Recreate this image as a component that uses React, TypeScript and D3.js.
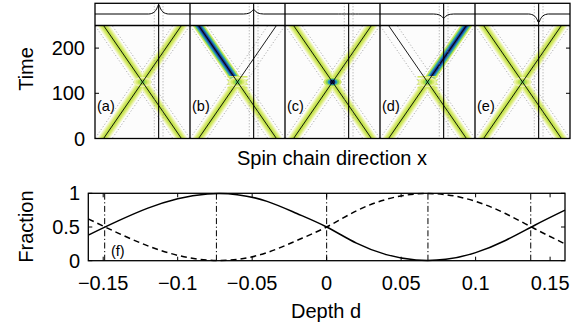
import React, { useRef, useEffect } from "react";
import * as d3 from "d3";

// top figure: one panel per barrier depth
const panelLabels = ["(a)", "(b)", "(c)", "(d)", "(e)"];
const panelDepths = [-0.149, -0.074, 0, 0.068, 0.137];
// relative beam strength of each arm of the X
const armLowerLeft = [1, 1, 1, 1, 1];
const armLowerRight = [1, 1, 1, 1, 1];
const armUpperLeft = [1, 2.5, 1, 0, 1];
const armUpperRight = [1, 0, 1, 2.5, 1];
const crossingPeak = [0.5, 0.55, 1, 0.55, 0.5];
const crossingFringes = [0, 4, 0, 4, 0];
const timeTicks = [0, 100, 200];

// bottom figure
const depthValues = [-0.16, -0.14, -0.12, -0.1, -0.08, -0.06, -0.04, -0.02, 0, 0.02, 0.04, 0.06, 0.08, 0.1, 0.12, 0.14, 0.16];
const solidFraction = [0.38, 0.59, 0.78, 0.92, 0.99, 0.98, 0.88, 0.7, 0.5, 0.26, 0.09, 0.01, 0.02, 0.12, 0.3, 0.53, 0.75];
const dashedFraction = [0.62, 0.41, 0.22, 0.08, 0.01, 0.02, 0.12, 0.3, 0.5, 0.74, 0.91, 0.99, 0.98, 0.88, 0.7, 0.47, 0.25];
const depthTicks = [-0.15, -0.1, -0.05, 0, 0.05, 0.1, 0.15];
const depthTickLabels = ["\u22120.15", "\u22120.1", "\u22120.05", "0", "0.05", "0.1", "0.15"];
const fractionTicks = [0, 0.5, 1];
const fractionTickLabels = ["0", "0.5", "1"];

const colorStops = ["#fcfcfc", "#eef5b4", "#d8ea6a", "#b0dc3e", "#5ccc6c", "#26acc4", "#2258bc", "#0e1650"];

const FONT = "Liberation Sans, Arial, Helvetica, sans-serif";

const App: React.FC = () => {
    const svgRef = useRef<SVGSVGElement | null>(null);

    useEffect(() => {
        document.body.style.margin = "0";
        const width = 584;
        const height = 332;
        const svg = d3.select(svgRef.current).attr("width", width).attr("height", height);
        svg.selectAll("*").remove();

        const heat = d3
            .scaleLinear<string>()
            .domain(colorStops.map((_, i) => i / (colorStops.length - 1)))
            .range(colorStops)
            .clamp(true);

        // ---------- top figure ----------
        const stripTop = 3.3;
        const xPanel = d3.scaleBand().domain(panelLabels).range([95, 570]).paddingInner(0).paddingOuter(0);
        const pw = xPanel.bandwidth();
        const xChain = d3.scaleLinear().domain([0, 1]).range([0, pw]);
        const yTime = d3.scaleLinear().domain([0, 250]).range([138.5, 25.5]);
        const beamStart = 0.09;
        const beamEnd = 0.91;
        const defectPos = 0.67;
        const tCross = 125;

        svg.append("rect")
            .attr("x", 95).attr("y", yTime(250))
            .attr("width", 475).attr("height", yTime(0) - yTime(250))
            .attr("fill", "#fcfcfc");

        const defs = svg.append("defs");
        defs.append("clipPath").attr("id", "panelClip")
            .append("rect").attr("x", 0).attr("y", yTime(250)).attr("width", pw).attr("height", yTime(0) - yTime(250));

        // point along a trajectory at time t
        const along = (x0: number, x1: number, t: number) => x0 + (x1 - x0) * (t / 250);

        const layerWidths = [10, 7.5, 5.5, 3.5, 2];
        const layerLevels = [0.12, 0.22, 0.3, 0.35, 0.38];

        panelLabels.forEach((lab, i) => {
            const g = svg.append("g").attr("transform", `translate(${xPanel(lab)},0)`);
            const inner = g.append("g").attr("clip-path", "url(#panelClip)");

            // dotted guides along both sides of each trajectory
            [-0.09, 0.09].forEach((off) => {
                [[beamStart, beamEnd], [beamEnd, beamStart]].forEach(([a, b]) => {
                    inner.append("line")
                        .attr("x1", xChain(along(a, b, -10) + off)).attr("y1", yTime(-10))
                        .attr("x2", xChain(along(a, b, 260) + off)).attr("y2", yTime(260))
                        .attr("stroke", "#8a8a8a").attr("stroke-width", 0.8)
                        .attr("stroke-dasharray", "1,2.2");
                });
            });
            // dotted guides beside the defect
            [-0.046, 0.046].forEach((off) => {
                g.append("line")
                    .attr("x1", xChain(defectPos + off)).attr("x2", xChain(defectPos + off))
                    .attr("y1", stripTop).attr("y2", yTime(0))
                    .attr("stroke", "#8a8a8a").attr("stroke-width", 0.8)
                    .attr("stroke-dasharray", "1,2");
            });

            // arms of the X: [start chain pos, end chain pos, t from, t to, strength]
            const arms: [number, number, number, number, number][] = [
                [beamStart, beamEnd, -15, tCross + 3, armLowerLeft[i]],
                [beamEnd, beamStart, -15, tCross + 3, armLowerRight[i]],
                [beamEnd, beamStart, tCross - 3, 265, armUpperLeft[i]],
                [beamStart, beamEnd, tCross - 3, 265, armUpperRight[i]],
            ];
            layerWidths.forEach((w, k) => {
                arms.forEach(([a, b, t0, t1, amp]) => {
                    if (amp <= 0) return;
                    inner.append("line")
                        .attr("x1", xChain(along(a, b, t0))).attr("y1", yTime(t0))
                        .attr("x2", xChain(along(a, b, t1))).attr("y2", yTime(t1))
                        .attr("stroke", heat(layerLevels[k] * amp))
                        .attr("stroke-width", w);
                });
            });

            // crossing region
            const cx = xChain(0.5);
            const cy = yTime(tCross);
            const peak = crossingPeak[i];
            d3.range(crossingFringes[i]).forEach((j) => {
                inner.append("rect")
                    .attr("x", cx - 10).attr("y", cy - 6 + j * 3.6)
                    .attr("width", 20).attr("height", 1.6)
                    .attr("fill", heat(0.3));
            });
            [[9, 5, 0.3], [7, 4, 0.5], [5, 3, 0.75], [2.8, 2.3, 1]].forEach(([rx, ry, f]) => {
                inner.append("ellipse")
                    .attr("cx", cx).attr("cy", cy).attr("rx", rx).attr("ry", ry)
                    .attr("fill", heat(peak * f));
            });

            // trajectories
            [[beamStart, beamEnd], [beamEnd, beamStart]].forEach(([a, b]) => {
                inner.append("line")
                    .attr("x1", xChain(a)).attr("y1", yTime(0))
                    .attr("x2", xChain(b)).attr("y2", yTime(250))
                    .attr("stroke", "#000").attr("stroke-width", 0.9);
            });

            // defect line
            g.append("line")
                .attr("x1", xChain(defectPos)).attr("x2", xChain(defectPos))
                .attr("y1", stripTop).attr("y2", yTime(0))
                .attr("stroke", "#000").attr("stroke-width", 1.1);

            // potential profile in the strip
            const bumpOffsets = [-10, -7, -4, -2, 0, 2, 4, 7, 10];
            const bumpShape = [0, 0.06, 0.25, 0.55, 1, 0.55, 0.25, 0.06, 0];
            const amp = panelDepths[i] * 62;
            const pts: [number, number][] = [[0, 14]];
            bumpOffsets.forEach((o, j) => pts.push([xChain(defectPos) + o, 14 + amp * bumpShape[j]]));
            pts.push([pw, 14]);
            g.append("path")
                .attr("d", d3.line().curve(d3.curveMonotoneX)(pts))
                .attr("fill", "none").attr("stroke", "#000").attr("stroke-width", 1);

            g.append("text")
                .attr("x", 2).attr("y", 111)
                .attr("font-family", FONT).attr("font-size", 14.5)
                .text(lab);

            // panel divider
            if (i > 0) {
                g.append("line")
                    .attr("x1", 0).attr("x2", 0).attr("y1", stripTop).attr("y2", yTime(0))
                    .attr("stroke", "#000").attr("stroke-width", 1.3);
            }
        });

        // frames
        svg.append("rect")
            .attr("x", 95).attr("y", stripTop).attr("width", 475).attr("height", yTime(0) - stripTop)
            .attr("fill", "none").attr("stroke", "#000").attr("stroke-width", 1.3);
        svg.append("line")
            .attr("x1", 95).attr("x2", 570).attr("y1", yTime(250)).attr("y2", yTime(250))
            .attr("stroke", "#000").attr("stroke-width", 1.3);

        timeTicks.forEach((t) => {
            svg.append("line").attr("x1", 95).attr("x2", 99).attr("y1", yTime(t)).attr("y2", yTime(t))
                .attr("stroke", "#000").attr("stroke-width", 1);
            svg.append("line").attr("x1", 566).attr("x2", 570).attr("y1", yTime(t)).attr("y2", yTime(t))
                .attr("stroke", "#000").attr("stroke-width", 1);
            svg.append("text")
                .attr("x", 85).attr("y", yTime(t) + 7)
                .attr("text-anchor", "end").attr("font-family", FONT).attr("font-size", 20)
                .text(String(t));
        });

        svg.append("text")
            .attr("transform", "translate(33,69) rotate(-90)")
            .attr("text-anchor", "middle").attr("font-family", FONT).attr("font-size", 20)
            .text("Time");
        svg.append("text")
            .attr("x", 332).attr("y", 164.5)
            .attr("text-anchor", "middle").attr("font-family", FONT).attr("font-size", 20)
            .text("Spin chain direction x");

        // ---------- bottom figure ----------
        const xDepth = d3.scaleLinear().domain([-0.16, 0.16]).range([88.3, 565]);
        const yFrac = d3.scaleLinear().domain([0, 1]).range([260.7, 193.3]);

        const bottom = svg.append("g");

        panelDepths.forEach((d) => {
            bottom.append("line")
                .attr("x1", xDepth(d)).attr("x2", xDepth(d))
                .attr("y1", yFrac(0)).attr("y2", yFrac(1))
                .attr("stroke", "#000").attr("stroke-width", 1)
                .attr("stroke-dasharray", "6,2.5,1.2,2.5");
        });

        const solidLine = d3.line<number>()
            .x((_, i) => xDepth(depthValues[i]))
            .y((v) => yFrac(v))
            .curve(d3.curveNatural);

        bottom.append("path")
            .attr("d", solidLine(solidFraction))
            .attr("fill", "none").attr("stroke", "#000").attr("stroke-width", 1.5);
        bottom.append("path")
            .attr("d", solidLine(dashedFraction))
            .attr("fill", "none").attr("stroke", "#000").attr("stroke-width", 1.5)
            .attr("stroke-dasharray", "6,4");

        bottom.append("rect")
            .attr("x", xDepth(-0.16)).attr("y", yFrac(1))
            .attr("width", xDepth(0.16) - xDepth(-0.16)).attr("height", yFrac(0) - yFrac(1))
            .attr("fill", "none").attr("stroke", "#000").attr("stroke-width", 1.3);

        depthTicks.forEach((d, i) => {
            bottom.append("line").attr("x1", xDepth(d)).attr("x2", xDepth(d))
                .attr("y1", yFrac(0)).attr("y2", yFrac(0) - 4).attr("stroke", "#000");
            bottom.append("line").attr("x1", xDepth(d)).attr("x2", xDepth(d))
                .attr("y1", yFrac(1)).attr("y2", yFrac(1) + 4).attr("stroke", "#000");
            bottom.append("text")
                .attr("x", xDepth(d)).attr("y", 290)
                .attr("text-anchor", "middle").attr("font-family", FONT).attr("font-size", 20)
                .text(depthTickLabels[i]);
        });
        fractionTicks.forEach((f, i) => {
            bottom.append("line").attr("x1", xDepth(-0.16)).attr("x2", xDepth(-0.16) + 4)
                .attr("y1", yFrac(f)).attr("y2", yFrac(f)).attr("stroke", "#000");
            bottom.append("line").attr("x1", xDepth(0.16) - 4).attr("x2", xDepth(0.16))
                .attr("y1", yFrac(f)).attr("y2", yFrac(f)).attr("stroke", "#000");
            bottom.append("text")
                .attr("x", 80).attr("y", yFrac(f) + 7)
                .attr("text-anchor", "end").attr("font-family", FONT).attr("font-size", 20)
                .text(fractionTickLabels[i]);
        });

        bottom.append("text")
            .attr("x", 111).attr("y", 256)
            .attr("font-family", FONT).attr("font-size", 14.5)
            .text("(f)");
        bottom.append("text")
            .attr("transform", "translate(33,226.5) rotate(-90)")
            .attr("text-anchor", "middle").attr("font-family", FONT).attr("font-size", 20)
            .text("Fraction");
        bottom.append("text")
            .attr("x", 326).attr("y", 318)
            .attr("text-anchor", "middle").attr("font-family", FONT).attr("font-size", 20)
            .text("Depth d");
    }, []);

    return <svg ref={svgRef} style={{ display: "block" }} />;
};

export default App;
